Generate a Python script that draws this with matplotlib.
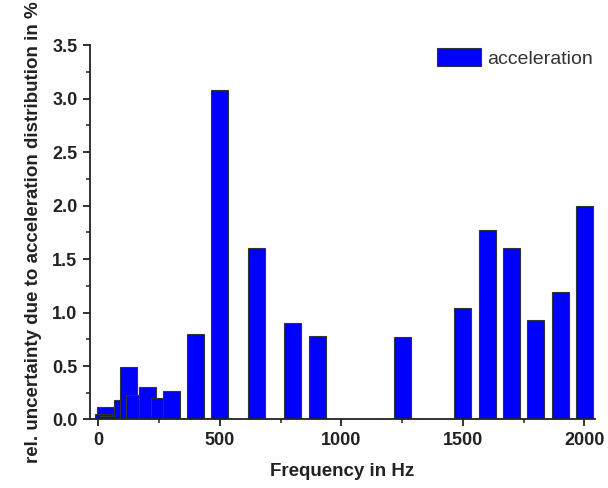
import matplotlib
matplotlib.use("Agg")
from matplotlib import pyplot as plt
from matplotlib.ticker import MultipleLocator

plt.rcParams['font.family'] = ['Liberation Sans', 'DejaVu Sans']

# frequencies in Hz (drawing order matters, low bars overlap)
freq = [30, 20, 40, 100, 125, 150, 200, 250, 300, 400, 500, 650, 800, 900,
        1250, 1500, 1600, 1700, 1800, 1900, 2000]
uncert = [0.12, 0.05, 0.03, 0.18, 0.49, 0.23, 0.30, 0.20, 0.27, 0.80, 3.08,
          1.60, 0.90, 0.78, 0.77, 1.04, 1.77, 1.60, 0.93, 1.19, 2.00]

fig = plt.figure(figsize=(6.08, 4.88), dpi=100)
ax = fig.add_axes([0.148, 0.1404, 0.831, 0.767])

ax.bar(freq, uncert, width=70, color='#0000ff', edgecolor='#333333',
       linewidth=0.8, label='acceleration')

ax.set_xlim(-35, 2045)
ax.set_ylim(0, 3.5)
ax.xaxis.set_major_locator(MultipleLocator(500))
ax.xaxis.set_minor_locator(MultipleLocator(250))
ax.yaxis.set_major_locator(MultipleLocator(0.5))
ax.yaxis.set_minor_locator(MultipleLocator(0.25))
ax.yaxis.set_major_formatter(matplotlib.ticker.FormatStrFormatter('%.1f'))

for s in ['top', 'right']:
    ax.spines[s].set_visible(False)
for s in ['left', 'bottom']:
    ax.spines[s].set_linewidth(1.3)
    ax.spines[s].set_color('#222222')

ax.tick_params(which='major', direction='out', length=5, width=1.3,
               labelsize=13, colors='#222222', pad=4)
ax.tick_params(which='minor', direction='out', length=3, width=1.1,
               colors='#222222')
for lab in ax.get_xticklabels() + ax.get_yticklabels():
    lab.set_fontweight('bold')

ax.set_xlabel('Frequency in Hz', fontsize=13.5, fontweight='bold',
              color='#222222', labelpad=10)
ax.set_ylabel('rel. uncertainty due to acceleration distribution in %',
              fontsize=13.5, fontweight='bold', color='#222222', labelpad=7)

leg = ax.legend(loc='upper right', frameon=False, fontsize=14,
                handlelength=2.3, handleheight=1.1, handletextpad=0.3,
                bbox_to_anchor=(1.03, 1.04))
for t in leg.get_texts():
    t.set_color('#333333')

fig.savefig('out.png', dpi=100)
